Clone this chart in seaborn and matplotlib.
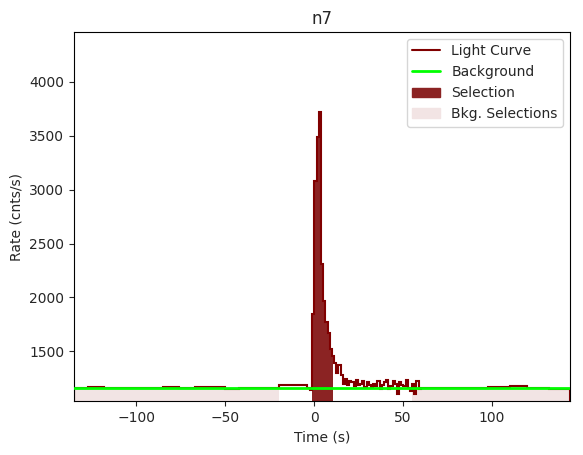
import numpy as np
import matplotlib
matplotlib.use("Agg")
import matplotlib.pyplot as plt
import seaborn as sns
from matplotlib.patches import Patch
from matplotlib.lines import Line2D

# bin edges and rates
edges_left = [-135, -127, -118, -108, -96, -85, -76, -67, -58, -50, -42, -34, -28, -20, -12, -4, -2.5, -1]
rates_left = [1160, 1165, 1162, 1158, 1160, 1170, 1158, 1165, 1172, 1150, 1155, 1163, 1160, 1185, 1190, 1160, 1140]
peak_rates = [1850, 3080, 3490, 3720, 2310, 1970, 1770, 1665, 1525, 1460, 1390, 1300, 1370, 1280,
              1200, 1240, 1190, 1220, 1210, 1180, 1230, 1190, 1200, 1220, 1170, 1215, 1190, 1160,
              1200, 1180, 1220, 1150, 1190, 1210, 1230, 1150, 1180, 1220, 1200, 1100, 1210, 1190,
              1180, 1230, 1160, 1130, 1200, 1100, 1220, 1150]
edges_right = [60, 72, 85, 98, 110, 120, 132, 144]
rates_right = [1155, 1160, 1158, 1165, 1175, 1158, 1150]
bkg_level = 1158
sel_range = (-1, 10.7)
bkg_ranges = [(-135, -19.7), (55, 144)]

peak_edges = list(np.linspace(-1, 60, len(peak_rates) + 1))
edges = edges_left[:-1] + peak_edges + edges_right[1:]
rates = rates_left + peak_rates + rates_right
edges = np.array(edges); rates = np.array(rates)

sns.set_style("white")
fig, ax = plt.subplots(figsize=(5.83, 4.55), dpi=100)
for a, b in bkg_ranges:
    ax.fill_between([a, b], 0, bkg_level, color="#f2e4e4", zorder=0, lw=0)
mask = (edges[:-1] >= sel_range[0]) & (edges[:-1] < sel_range[1])
for x0, x1, r in zip(edges[:-1][mask], edges[1:][mask], rates[mask]):
    ax.fill_between([x0, min(x1, sel_range[1])], 0, r, color="#8b2323", lw=0, zorder=1)
ax.stairs(rates, edges, color="#800000", lw=1.5, zorder=2)
ax.axhline(bkg_level, color="#00ff00", lw=2, zorder=3)
ax.set_xlim(-135, 144)
ax.set_ylim(1035, 4465)
ax.set_yticks([1500, 2000, 2500, 3000, 3500, 4000])
ax.set_xlabel("Time (s)")
ax.set_ylabel("Rate (cnts/s)")
ax.set_title("n7")
for s in ax.spines.values():
    s.set_color("black")
ax.tick_params(bottom=True, left=True, direction="out")
handles = [Line2D([], [], color="#800000", lw=1.5), Line2D([], [], color="#00ff00", lw=2),
           Patch(color="#8b2323"), Patch(color="#f2e4e4")]
ax.legend(handles, ["Light Curve", "Background", "Selection", "Bkg. Selections"], loc="upper right")
fig.subplots_adjust(left=0.127, right=0.978, top=0.93, bottom=0.118)
fig.savefig("out.png")
